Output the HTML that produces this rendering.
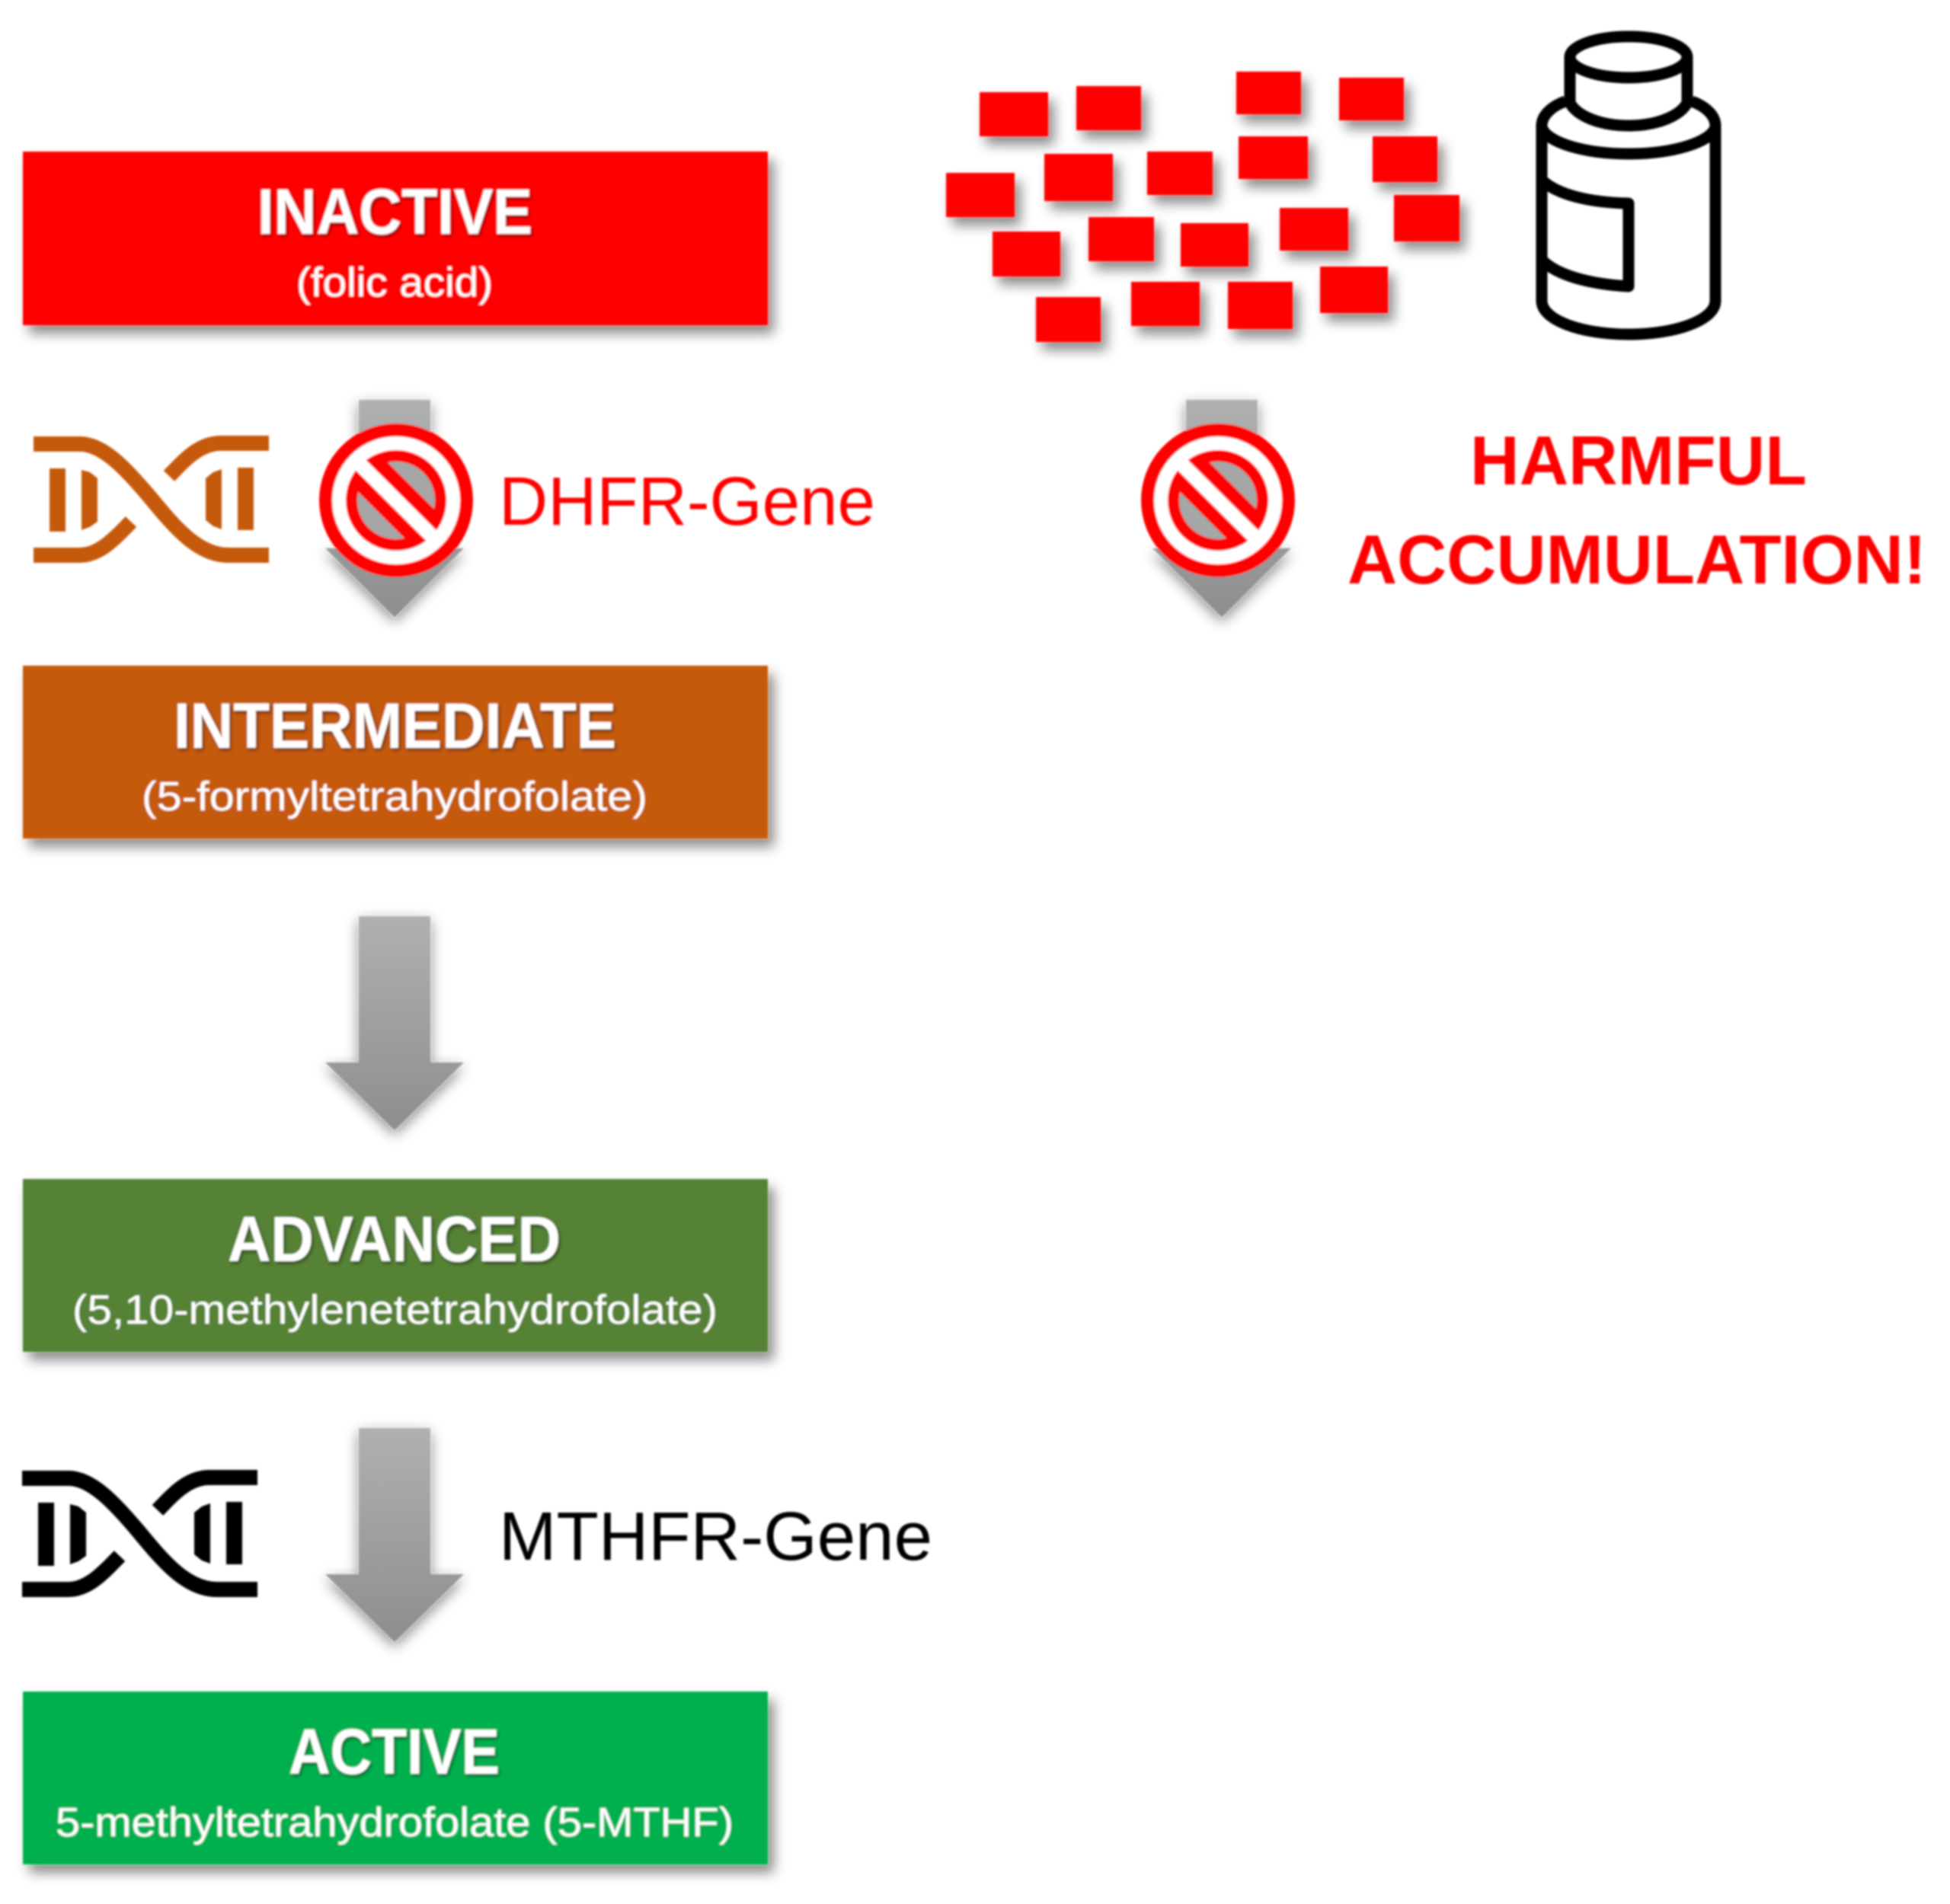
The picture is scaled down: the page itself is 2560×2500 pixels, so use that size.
<!DOCTYPE html>
<html><head><meta charset="utf-8"><style>
html,body{margin:0;padding:0;background:#fff;width:2560px;height:2500px;overflow:hidden}
svg{display:block}
text{font-family:"Liberation Sans",sans-serif}
.t{font-weight:700;font-size:84px;fill:#fff;filter:url(#ts)}
.s{font-size:54px;fill:#fff}
</style></head><body>
<svg xmlns="http://www.w3.org/2000/svg" width="2560" height="2500" viewBox="0 0 2560 2500">
<defs>
<filter id="ds" x="-10%" y="-15%" width="125%" height="145%"><feDropShadow dx="8" dy="11" stdDeviation="8" flood-color="#000" flood-opacity=".45"/></filter>
<filter id="ts" x="-5%" y="-10%" width="110%" height="125%"><feDropShadow dx="2" dy="3" stdDeviation="2" flood-color="#000" flood-opacity=".45"/></filter>
<filter id="as" x="-30%" y="-10%" width="160%" height="125%"><feDropShadow dx="0" dy="6" stdDeviation="9" flood-color="#000" flood-opacity=".48"/></filter>
<filter id="soft" filterUnits="userSpaceOnUse" x="0" y="0" width="2560" height="2500"><feGaussianBlur stdDeviation="1.3"/></filter>
<linearGradient id="ag" x1="0" y1="0" x2="0" y2="1"><stop offset="0" stop-color="#b0b0b0"/><stop offset="1" stop-color="#8e8e8e"/></linearGradient>
<clipPath id="nc"><circle r="66"/></clipPath>
<g id="arrow"><path d="M-47 0H47V192H91L0 281L-91 192H-47Z" fill="url(#ag)" filter="url(#as)"/></g>
<g id="dna" fill="none" stroke-width="20">
<path d="M44 583H105C135 583 165 615 197 653C230 693 260 729 300 729H353"/>
<path d="M353 582H290C262 582 243 603 222 625"/>
<path d="M44 729H105C130 729 150 708 172 685"/>
</g>
<g id="dnabars" stroke="none">
<rect x="65" y="615" width="21" height="83"/>
<path d="M107 617L118 620L128 628V685L118 692L107 696Z"/>
<rect x="312" y="614" width="21" height="82"/>
<path d="M291 616L280 620L270 628V683L280 691L291 695Z"/>
</g>
<g id="no">
<circle r="92.5" fill="#fff" stroke="#f00" stroke-width="17"/>
<circle r="58.5" fill="#a6a6a6" stroke="#f00" stroke-width="15"/>
<g clip-path="url(#nc)"><path d="M-50 -50L50 50" stroke="#f00" stroke-width="55"/></g>
<path d="M-59 -59L59 59" stroke="#fff" stroke-width="19"/>
</g>
</defs>
<rect width="2560" height="2500" fill="#fff"/>
<g filter="url(#soft)">
<!-- boxes -->
<rect x="30" y="199" width="978" height="228" fill="#f00" filter="url(#ds)"/>
<rect x="30" y="874" width="978" height="227" fill="#c55a11" filter="url(#ds)"/>
<rect x="30" y="1548" width="978" height="227" fill="#548235" filter="url(#ds)"/>
<rect x="30" y="2221" width="978" height="227" fill="#00b050" filter="url(#ds)"/>
<!-- box labels -->
<text class="t" x="338" y="307" textLength="361" lengthAdjust="spacingAndGlyphs">INACTIVE</text>
<text class="s" x="389" y="389" textLength="258" lengthAdjust="spacingAndGlyphs">(folic acid)</text>
<text class="t" x="228" y="982" textLength="581" lengthAdjust="spacingAndGlyphs">INTERMEDIATE</text>
<text class="s" x="186" y="1064" textLength="664" lengthAdjust="spacingAndGlyphs">(5-formyltetrahydrofolate)</text>
<text class="t" x="299" y="1656" textLength="437" lengthAdjust="spacingAndGlyphs">ADVANCED</text>
<text class="s" x="95" y="1738" textLength="847" lengthAdjust="spacingAndGlyphs">(5,10-methylenetetrahydrofolate)</text>
<text class="t" x="379" y="2329" textLength="277" lengthAdjust="spacingAndGlyphs">ACTIVE</text>
<text class="s" x="73" y="2411" textLength="890" lengthAdjust="spacingAndGlyphs">5-methyltetrahydrofolate (5-MTHF)</text>
<!-- arrows -->
<use href="#arrow" transform="translate(518,525) scale(1,1.015)"/>
<use href="#arrow" transform="translate(518,1203)"/>
<use href="#arrow" transform="translate(518,1875)"/>
<use href="#arrow" transform="translate(1604,525) scale(1,1.015)"/>
<!-- prohibition signs -->
<use href="#no" transform="translate(520,657)"/>
<use href="#no" transform="translate(1599,657)"/>
<!-- DNA -->
<g stroke="#c55a11" fill="#c55a11"><use href="#dna"/><use href="#dnabars"/></g>
<g stroke="#000" fill="#000" transform="translate(-15,1358)"><use href="#dna"/><use href="#dnabars"/></g>
<!-- gene labels -->
<text x="655" y="689" font-size="90" fill="#f00" textLength="494" lengthAdjust="spacingAndGlyphs">DHFR-Gene</text>
<text x="655" y="2048" font-size="90" fill="#000" textLength="569" lengthAdjust="spacingAndGlyphs">MTHFR-Gene</text>
<text x="1930" y="636" font-size="91" font-weight="700" fill="#f00" textLength="442" lengthAdjust="spacingAndGlyphs">HARMFUL</text>
<text x="1769" y="766" font-size="91" font-weight="700" fill="#f00" textLength="760" lengthAdjust="spacingAndGlyphs">ACCUMULATION!</text>
<!-- red particles -->
<g fill="#f00" filter="url(#ds)">
<rect x="1286" y="121" width="90" height="58"/>
<rect x="1413" y="113" width="85" height="58"/>
<rect x="1623" y="94" width="85" height="56"/>
<rect x="1758" y="102" width="85" height="56"/>
<rect x="1371" y="202" width="90" height="62"/>
<rect x="1506" y="199" width="86" height="57"/>
<rect x="1626" y="179" width="91" height="56"/>
<rect x="1802" y="179" width="85" height="60"/>
<rect x="1242" y="227" width="90" height="58"/>
<rect x="1303" y="304" width="89" height="59"/>
<rect x="1429" y="285" width="86" height="58"/>
<rect x="1550" y="293" width="89" height="57"/>
<rect x="1680" y="273" width="90" height="56"/>
<rect x="1830" y="256" width="86" height="61"/>
<rect x="1360" y="390" width="85" height="59"/>
<rect x="1485" y="370" width="90" height="58"/>
<rect x="1612" y="370" width="85" height="62"/>
<rect x="1733" y="350" width="89" height="61"/>
</g>
<!-- bottle -->
<g fill="none" stroke="#000" stroke-width="15" stroke-linejoin="round">
<ellipse cx="2138" cy="75" rx="77" ry="27"/>
<path d="M2061 75V135C2070 152 2100 165 2138 165C2176 165 2206 152 2215 135V75"/>
<path d="M2055 133C2036 140 2024 152 2024 165V395C2024 420 2075 439 2138 439C2201 439 2252 420 2252 395V165C2252 152 2240 140 2221 133"/>
<path d="M2024 167C2030 187 2080 202 2138 202C2196 202 2246 187 2252 167"/>
<path d="M2026 238C2045 255 2085 266 2138 267V376C2085 373 2045 361 2026 343"/>
</g>
</g>
</svg>
</body></html>
